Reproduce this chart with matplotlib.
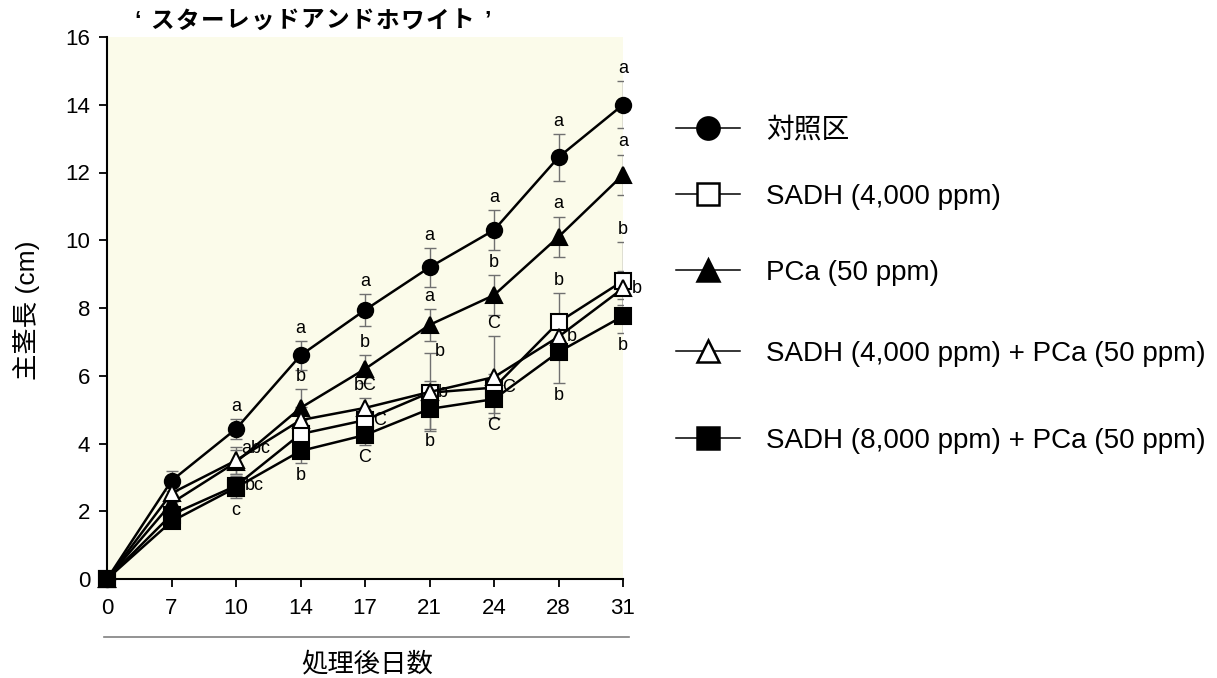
import numpy as np
import matplotlib
matplotlib.use('Agg')
from matplotlib import pyplot as plt
from matplotlib.lines import Line2D

plt.rcParams['font.family'] = ['Liberation Sans', 'Noto Sans CJK JP']

days = ['0', '7', '10', '14', '17', '21', '24', '28', '31']

labels = ['対照区', 'SADH (4,000 ppm)', 'PCa (50 ppm)',
          'SADH (4,000 ppm) + PCa (50 ppm)', 'SADH (8,000 ppm) + PCa (50 ppm)']

control = [0, 2.9, 4.43, 6.6, 7.94, 9.2, 10.3, 12.45, 14.0]
sadh4000 = [0, 1.9, 2.75, 4.28, 4.69, 5.5, 5.65, 7.58, 8.8]
pca = [0, 2.24, 3.45, 5.05, 6.2, 7.5, 8.38, 10.1, 11.93]
sadh4000_pca = [0, 2.53, 3.5, 4.69, 5.05, 5.52, 5.96, 7.15, 8.58]
sadh8000_pca = [0, 1.7, 2.7, 3.78, 4.25, 5.02, 5.31, 6.7, 7.76]

control_err = [0, 0.3, 0.3, 0.43, 0.47, 0.58, 0.59, 0.69, 0.69]
sadh4000_err = [0, 0.2, 0.3, 0.4, 0.3, 0.35, 0.4, 0.86, 1.15]
pca_err = [0, 0.25, 0.35, 0.55, 0.4, 0.48, 0.6, 0.6, 0.6]
sadh4000_pca_err = [0, 0.25, 0.4, 0.4, 0.3, 1.15, 1.2, 0.5, 0.5]
sadh8000_pca_err = [0, 0.2, 0.3, 0.35, 0.3, 0.6, 0.4, 0.9, 0.5]

# significance letters and where they sit relative to each point
control_let = ['', '', 'a', 'a', 'a', 'a', 'a', 'a', 'a']
control_pos = ['above'] * 9
sadh4000_let = ['', '', 'bc', '', 'C', 'b', 'C', 'b', 'b']
sadh4000_pos = ['', '', 'right', '', 'right', 'right', 'right', 'above', 'above']
pca_let = ['', '', 'abc', 'b', 'b', 'a', 'b', 'a', 'a']
pca_pos = ['', '', 'upright', 'above', 'above', 'above', 'above', 'above', 'above']
sadh4000_pca_let = ['', '', '', '', 'bC', 'b', 'C', 'b', 'b']
sadh4000_pca_pos = ['', '', '', '', 'above', 'upright', 'above', 'right', 'right']
sadh8000_pca_let = ['', '', 'c', 'b', 'C', 'b', 'C', 'b', 'b']
sadh8000_pca_pos = ['below'] * 9

series = [
    (control, control_err, control_let, control_pos, 'o', 'black'),
    (sadh4000, sadh4000_err, sadh4000_let, sadh4000_pos, 's', 'white'),
    (pca, pca_err, pca_let, pca_pos, '^', 'black'),
    (sadh4000_pca, sadh4000_pca_err, sadh4000_pca_let, sadh4000_pca_pos, '^', 'white'),
    (sadh8000_pca, sadh8000_pca_err, sadh8000_pca_let, sadh8000_pca_pos, 's', 'black'),
]

fig = plt.figure(figsize=(12.17, 6.78), dpi=100)
ax = fig.add_axes([107 / 1217, 1 - 579 / 678, 516 / 1217, 542 / 678])
ax.set_facecolor('#fbfbea')

x = np.arange(len(days))
for vals, err, lets, pos, mk, fc in series:
    ax.errorbar(x, vals, yerr=err, fmt='none', ecolor='#707070', elinewidth=1,
                capsize=4, capthick=1, zorder=2)
for vals, err, lets, pos, mk, fc in series:
    ax.plot(x, vals, color='black', lw=1.8, marker=mk, markersize=11,
            markerfacecolor=fc, markeredgecolor='black', markeredgewidth=1.5,
            zorder=3, clip_on=False)

offsets = {
    'above': ((0, 3), 'center', 'bottom'),
    'below': ((0, -3), 'center', 'top'),
    'right': ((6, 0), 'left', 'center'),
    'upright': ((4, 1), 'left', 'center'),
}
for vals, err, lets, pos, mk, fc in series:
    for i in range(len(days)):
        if not lets[i]:
            continue
        p = pos[i]
        if p in ('above', 'upright'):
            y = vals[i] + err[i]
        elif p == 'below':
            y = vals[i] - err[i]
        else:
            y = vals[i]
        off, ha, va = offsets[p]
        ax.annotate(lets[i], xy=(i, y), xytext=off, textcoords='offset points',
                    ha=ha, va=va, fontsize=13, zorder=4)

ax.set_xlim(0, len(days) - 1)
ax.set_ylim(0, 16)
ax.set_xticks(x)
ax.set_xticklabels(days)
ax.set_yticks(np.arange(0, 17, 2))
for s in ['top', 'right']:
    ax.spines[s].set_visible(False)
for s in ['left', 'bottom']:
    ax.spines[s].set_linewidth(1.5)
ax.tick_params(axis='both', direction='out', length=6, width=1.3, labelsize=16, pad=6)
ax.tick_params(axis='x', pad=8)

fig.text(26 / 1217, 1 - 310 / 678, '主茎長 (cm)', fontsize=19, rotation=90,
         ha='center', va='center')

fig.add_artist(Line2D([104 / 1217, 629 / 1217], [1 - 637 / 678, 1 - 637 / 678],
                      color='#808080', lw=1.2))
fig.text(367 / 1217, 1 - 664 / 678, '処理後日数', fontsize=19, ha='center', va='center')

# title is letter-spaced: place each character in its own cell
title = '‘スターレッドアンドホワイト’'
cell = 375 / len(title)
for i, ch in enumerate(title):
    fig.text((125 + cell * (i + 0.5)) / 1217, 1 - 21 / 678, ch, fontsize=17,
             fontweight='bold', ha='center', va='center')

# legend, one entry per row
legend_y = [131, 197, 273, 354, 441]
for (vals, err, lets, pos, mk, fc), lab, ly in zip(series, labels, legend_y):
    h = Line2D([], [], color='black', lw=1.1, marker=mk, markersize=16,
               markerfacecolor=fc, markeredgecolor='black', markeredgewidth=1.8)
    fig.legend([h], [lab], loc='center left',
               bbox_to_anchor=(676 / 1217, 1 - ly / 678),
               frameon=False, fontsize=20, handlelength=2.3,
               handletextpad=0.95, borderpad=0, borderaxespad=0)

fig.savefig('out.png', dpi=100)
